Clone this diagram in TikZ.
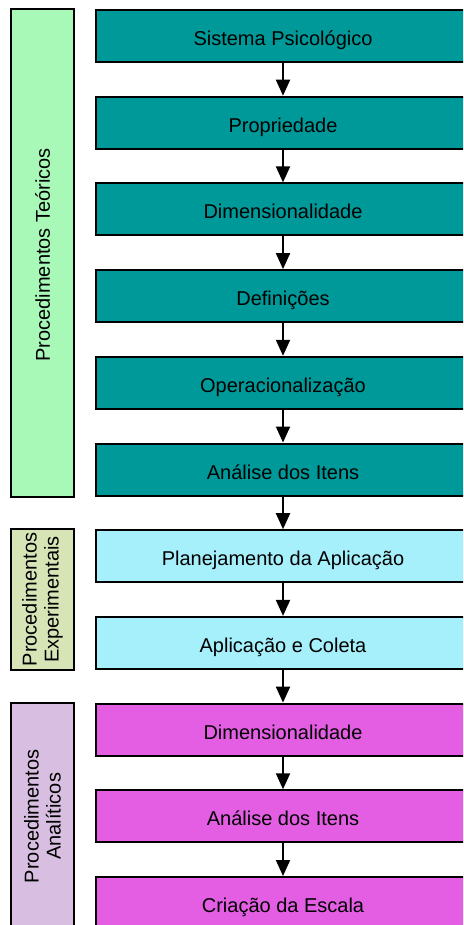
\documentclass[tikz,border=0pt]{standalone}
\usepackage{fontspec}
\setmainfont{Liberation Sans}
\usetikzlibrary{positioning,fit,calc,arrows.meta}

\definecolor{teal-etapa}{RGB}{0,153,153}
\definecolor{ciano-etapa}{RGB}{166,240,252}
\definecolor{magenta-etapa}{RGB}{227,94,227}
\definecolor{verde-bloco}{RGB}{168,248,184}
\definecolor{oliva-bloco}{RGB}{214,228,182}
\definecolor{lilas-bloco}{RGB}{216,190,224}

\begin{document}
\begin{tikzpicture}[
  node distance=16.35pt,
  etapa/.style={rectangle, draw=black, line width=1pt, minimum width=187pt, minimum height=26pt, inner sep=0pt, text height=9.5pt, text depth=0pt, font=\fontsize{10}{12}\selectfont},
  bloco/.style={rectangle, draw=black, line width=1pt, inner sep=0pt},
  rotulo/.style={rotate=90, align=center, font=\fontsize{10}{11}\selectfont},
  seta/.style={line width=1pt, -{Triangle[width=7pt,length=8pt]}}
]
  \useasboundingbox (0,0) rectangle (231.5pt,-462.5pt);
  \clip (0,0) rectangle (231.5pt,-462.5pt);

  % procedimentos teoricos
  \node (teo-sistema) at (141.5pt,-18pt) [etapa, fill=teal-etapa] {Sistema Psicológico};
  \node (teo-propriedade) [below=of teo-sistema, etapa, fill=teal-etapa] {Propriedade};
  \node (teo-dimensao) [below=of teo-propriedade, etapa, fill=teal-etapa] {Dimensionalidade};
  \node (teo-definicoes) [below=of teo-dimensao, etapa, fill=teal-etapa] {Definições};
  \node (teo-operacao) [below=of teo-definicoes, etapa, fill=teal-etapa] {Operacionalização};
  \node (teo-analise) [below=of teo-operacao, etapa, fill=teal-etapa] {Análise dos Itens};

  % procedimentos experimentais
  \node (exp-planejamento) [below=of teo-analise, etapa, fill=ciano-etapa] {Planejamento da Aplicação};
  \node (exp-coleta) [below=of exp-planejamento, etapa, fill=ciano-etapa] {Aplicação e Coleta};

  % procedimentos analiticos
  \node (ana-dimensao) [below=of exp-coleta, etapa, fill=magenta-etapa] {Dimensionalidade};
  \node (ana-analise) [below=of ana-dimensao, etapa, fill=magenta-etapa] {Análise dos Itens};
  \node (ana-escala) [below=of ana-analise, etapa, fill=magenta-etapa] {Criação da Escala};

  \draw[seta] (teo-sistema) -- (teo-propriedade);
  \draw[seta] (teo-propriedade) -- (teo-dimensao);
  \draw[seta] (teo-dimensao) -- (teo-definicoes);
  \draw[seta] (teo-definicoes) -- (teo-operacao);
  \draw[seta] (teo-operacao) -- (teo-analise);
  \draw[seta] (teo-analise) -- (exp-planejamento);
  \draw[seta] (exp-planejamento) -- (exp-coleta);
  \draw[seta] (exp-coleta) -- (ana-dimensao);
  \draw[seta] (ana-dimensao) -- (ana-analise);
  \draw[seta] (ana-analise) -- (ana-escala);

  \node (teoricos) [bloco, fill=verde-bloco, fit={($(teo-sistema.north west)+(-42pt,0)$) ($(teo-analise.south west)+(-10.5pt,0)$)}] {};
  \node (teoricos-rotulo) at (teoricos) [rotulo, xshift=-1pt] {Procedimentos Teóricos};

  \node (experimentais) [bloco, fill=oliva-bloco, fit={($(exp-planejamento.north west)+(-42pt,0)$) ($(exp-coleta.south west)+(-10.5pt,0)$)}] {};
  \node (experimentais-rotulo) at (experimentais) [rotulo] {Procedimentos\\Experimentais};

  \node (analiticos) [bloco, fill=lilas-bloco, fit={($(ana-dimensao.north west)+(-42pt,0)$) ($(ana-escala.south west)+(-10.5pt,0)$)}] {};
  \node (analiticos-rotulo) at (analiticos) [rotulo] {Procedimentos\\Analíticos};

\end{tikzpicture}
\end{document}
